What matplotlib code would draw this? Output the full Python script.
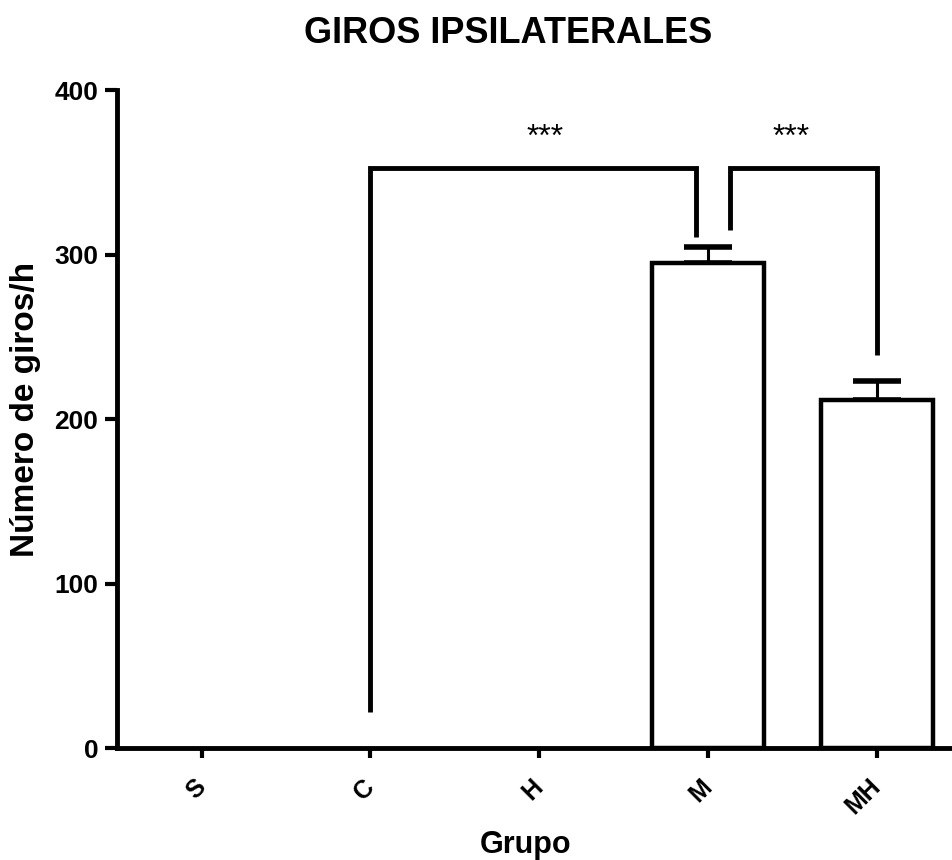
import matplotlib
matplotlib.use('Agg')
import matplotlib.pyplot as plt
import matplotlib.transforms as mtransforms
import numpy as np

plt.rcParams['font.family'] = ['Liberation Sans', 'DejaVu Sans']
plt.rcParams['font.weight'] = 'bold'

grupos = ['S', 'C', 'H', 'M', 'MH']
medias = [0, 0, 0, 295, 212]
errores = [0, 0, 0, 10, 11]

# brackets: (x1, x2, y top, left leg bottom, right leg bottom, label)
brackets = [(1, 2.93, 353, 22, 311, '***'),
            (3.13, 4, 353, 315, 239, '***')]
estrellas_x = [2.035, 3.49]

fig = plt.figure(figsize=(9.53, 8.6), dpi=100)
ax = fig.add_axes([0.123, 0.130, 0.877, 0.765])

x = np.arange(len(grupos))
mostrar = [i for i in x if medias[i] > 0]
ax.bar([x[i] for i in mostrar], [medias[i] for i in mostrar], width=0.66,
       color='white', edgecolor='black', linewidth=3.2, zorder=2)
ax.errorbar([x[i] for i in mostrar], [medias[i] for i in mostrar],
            yerr=[[0] * len(mostrar), [errores[i] for i in mostrar]],
            fmt='none', ecolor='black', elinewidth=2.2, capsize=17, capthick=4, zorder=1)

for (x1, x2, ytop, yl, yr, lab), xs in zip(brackets, estrellas_x):
    ax.plot([x1, x1, x2, x2], [yl, ytop, ytop, yr], color='black', lw=3.5,
            solid_joinstyle='miter', solid_capstyle='butt')
    ax.text(xs, 371, lab, ha='center', va='center', fontsize=23, fontweight='normal')

ax.set_xlim(-0.5, 4.45)
ax.set_ylim(0, 400)
ax.set_yticks([0, 100, 200, 300, 400])
ax.set_xticks(x)
ax.set_xticklabels(grupos, rotation=45, ha='right', va='center',
                   rotation_mode='anchor', fontsize=18, fontweight='bold')
desplaza = mtransforms.ScaledTranslation(11 / 100, 0, fig.dpi_scale_trans)
for lbl in ax.get_xticklabels():
    lbl.set_transform(lbl.get_transform() + desplaza)
for lbl in ax.get_yticklabels():
    lbl.set_fontsize(19)
    lbl.set_fontweight('bold')

ax.spines['top'].set_visible(False)
ax.spines['right'].set_visible(False)
ax.spines['left'].set_linewidth(3.5)
ax.spines['bottom'].set_linewidth(3.5)
ax.tick_params(axis='y', length=8.5, width=3, pad=5)
ax.tick_params(axis='x', length=7, width=3, pad=18)

ax.set_xlabel('Grupo', fontsize=22, fontweight='bold')
ax.xaxis.set_label_coords(0.488, -0.125)
ax.set_ylabel('Número de giros/h', fontsize=24, fontweight='bold')
ax.yaxis.set_label_coords(-0.091, 0.515)
fig.suptitle('GIROS IPSILATERALES', fontsize=26, fontweight='bold', x=0.533, y=0.981)

fig.savefig('out.png', dpi=100)
